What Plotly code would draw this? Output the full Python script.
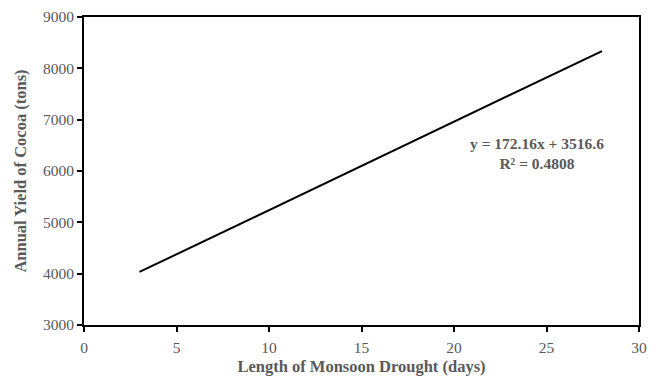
import plotly.graph_objects as go

# Trend line values
drought_days = [3, 28]
cocoa_yield = [4033, 8337]

x_ticks = [0, 5, 10, 15, 20, 25, 30]
y_ticks = [3000, 4000, 5000, 6000, 7000, 8000, 9000]

equation_lines = ["y = 172.16x + 3516.6", "R² = 0.4808"]

grey = "#595959"
font_family = "Liberation Serif, Times New Roman, serif"

fig = go.Figure()
fig.add_trace(go.Scatter(
    x=drought_days, y=cocoa_yield, mode="lines",
    line=dict(color="black", width=2), showlegend=False, hoverinfo="skip"))

fig.add_annotation(
    x=24.5, y=6340, xref="x", yref="y",
    text="<br>".join("<b>" + t + "</b>" for t in equation_lines), showarrow=False,
    font=dict(family=font_family, size=15.5, color=grey), align="center")

axis_common = dict(
    showgrid=False, zeroline=False, showline=True, linecolor="black", linewidth=2,
    mirror=True, ticks="outside", ticklen=5, tickwidth=1.5, tickcolor="black",
    ticklabeloverflow="allow", automargin=False,
    tickfont=dict(family=font_family, size=15.5, color=grey))

fig.update_xaxes(range=[0, 30], tickvals=x_ticks, ticklabelstandoff=2,
                 **axis_common,
                 title=dict(text="<b>Length of Monsoon Drought (days)</b>",
                            font=dict(family=font_family, size=16.5, color=grey), standoff=6))
fig.update_yaxes(range=[3000, 9000], tickvals=y_ticks, **axis_common,
                 title=dict(text="<b>Annual Yield of Cocoa (tons)</b>",
                            font=dict(family=font_family, size=16.5, color=grey), standoff=12))

fig.update_layout(
    width=640, height=369,
    margin=dict(l=76, r=9, t=9, b=52),
    plot_bgcolor="white", paper_bgcolor="white",
    font=dict(family=font_family, color=grey))

fig.write_html("out.html")
